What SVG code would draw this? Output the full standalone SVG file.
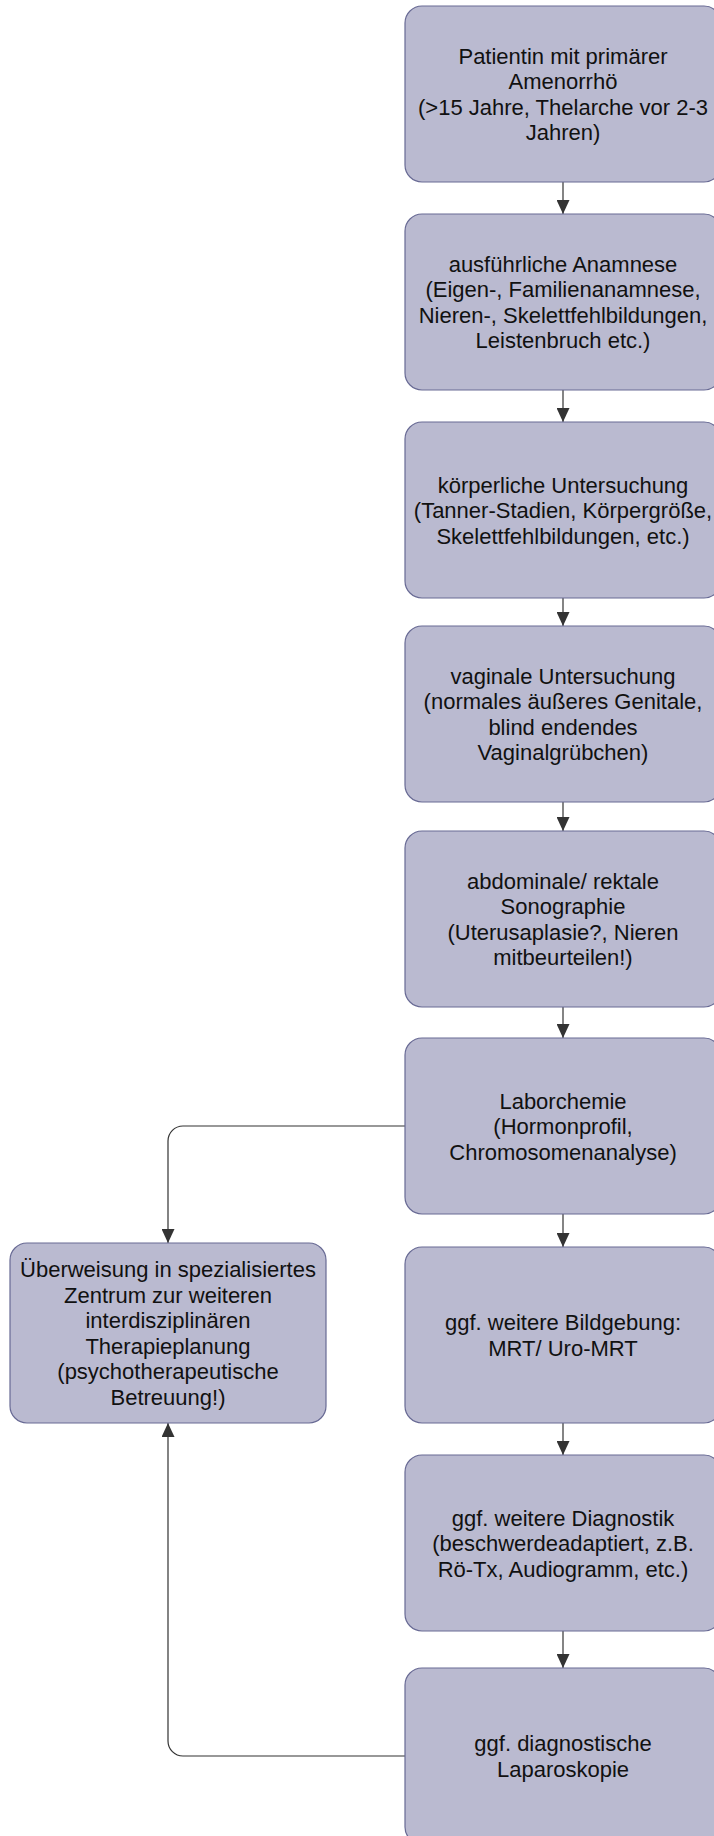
<svg xmlns="http://www.w3.org/2000/svg" width="714" height="1836" viewBox="0 0 714 1836">
<style>
.box{fill:#babad0;stroke:#686a94;stroke-width:1.2}
.t{font-family:"Liberation Sans",Arial,sans-serif;font-size:22px;fill:#111;text-anchor:middle}
.c{fill:none;stroke:#333;stroke-width:1.2}
</style>
<defs>
<marker id="ah" markerUnits="userSpaceOnUse" markerWidth="14" markerHeight="13" refX="14" refY="6.5" orient="auto">
<path d="M0,0 L14,6.5 L0,13 z" fill="#333"/>
</marker>
</defs>
<rect width="714" height="1836" fill="#fff"/>
<g id="connectors">
<path class="c" d="M563 182 V214" marker-end="url(#ah)"/>
<path class="c" d="M563 390 V422" marker-end="url(#ah)"/>
<path class="c" d="M563 598 V626" marker-end="url(#ah)"/>
<path class="c" d="M563 802 V831" marker-end="url(#ah)"/>
<path class="c" d="M563 1007 V1038" marker-end="url(#ah)"/>
<path class="c" d="M563 1214 V1247" marker-end="url(#ah)"/>
<path class="c" d="M563 1423 V1455" marker-end="url(#ah)"/>
<path class="c" d="M563 1631 V1668" marker-end="url(#ah)"/>
<path class="c" d="M405 1126 H183 A15 15 0 0 0 168 1141 V1243" marker-end="url(#ah)"/>
<path class="c" d="M405 1756 H183 A15 15 0 0 1 168 1741 V1423" marker-end="url(#ah)"/>
</g>
<g id="n1"><rect class="box" x="405" y="6" width="316" height="176" rx="17"/>
<text class="t" x="563" y="63.75">Patientin mit primärer</text>
<text class="t" x="563" y="89.25">Amenorrhö</text>
<text class="t" x="563" y="114.75">(&gt;15 Jahre, Thelarche vor 2-3</text>
<text class="t" x="563" y="140.25">Jahren)</text></g>
<g id="n2"><rect class="box" x="405" y="214" width="316" height="176" rx="17"/>
<text class="t" x="563" y="271.75">ausführliche Anamnese</text>
<text class="t" x="563" y="297.25">(Eigen-, Familienanamnese,</text>
<text class="t" x="563" y="322.75">Nieren-, Skelettfehlbildungen,</text>
<text class="t" x="563" y="348.25">Leistenbruch etc.)</text></g>
<g id="n3"><rect class="box" x="405" y="422" width="316" height="176" rx="17"/>
<text class="t" x="563" y="492.5">körperliche Untersuchung</text>
<text class="t" x="563" y="518">(Tanner-Stadien, Körpergröße,</text>
<text class="t" x="563" y="543.5">Skelettfehlbildungen, etc.)</text></g>
<g id="n4"><rect class="box" x="405" y="626" width="316" height="176" rx="17"/>
<text class="t" x="563" y="683.75">vaginale Untersuchung</text>
<text class="t" x="563" y="709.25">(normales äußeres Genitale,</text>
<text class="t" x="563" y="734.75">blind endendes</text>
<text class="t" x="563" y="760.25">Vaginalgrübchen)</text></g>
<g id="n5"><rect class="box" x="405" y="831" width="316" height="176" rx="17"/>
<text class="t" x="563" y="888.75">abdominale/ rektale</text>
<text class="t" x="563" y="914.25">Sonographie</text>
<text class="t" x="563" y="939.75">(Uterusaplasie?, Nieren</text>
<text class="t" x="563" y="965.25">mitbeurteilen!)</text></g>
<g id="n6"><rect class="box" x="405" y="1038" width="316" height="176" rx="17"/>
<text class="t" x="563" y="1108.5">Laborchemie</text>
<text class="t" x="563" y="1134">(Hormonprofil,</text>
<text class="t" x="563" y="1159.5">Chromosomenanalyse)</text></g>
<g id="n7"><rect class="box" x="405" y="1247" width="316" height="176" rx="17"/>
<text class="t" x="563" y="1330.25">ggf. weitere Bildgebung:</text>
<text class="t" x="563" y="1355.75">MRT/ Uro-MRT</text></g>
<g id="n8"><rect class="box" x="405" y="1455" width="316" height="176" rx="17"/>
<text class="t" x="563" y="1525.5">ggf. weitere Diagnostik</text>
<text class="t" x="563" y="1551">(beschwerdeadaptiert, z.B.</text>
<text class="t" x="563" y="1576.5">Rö-Tx, Audiogramm, etc.)</text></g>
<g id="n9"><rect class="box" x="405" y="1668" width="316" height="176" rx="17"/>
<text class="t" x="563" y="1751.25">ggf. diagnostische</text>
<text class="t" x="563" y="1776.75">Laparoskopie</text></g>
<g id="n10"><rect class="box" x="10" y="1243" width="316" height="180" rx="17"/>
<text class="t" x="168" y="1277.25">Überweisung in spezialisiertes</text>
<text class="t" x="168" y="1302.75">Zentrum zur weiteren</text>
<text class="t" x="168" y="1328.25">interdisziplinären</text>
<text class="t" x="168" y="1353.75">Therapieplanung</text>
<text class="t" x="168" y="1379.25">(psychotherapeutische</text>
<text class="t" x="168" y="1404.75">Betreuung!)</text></g>
</svg>
